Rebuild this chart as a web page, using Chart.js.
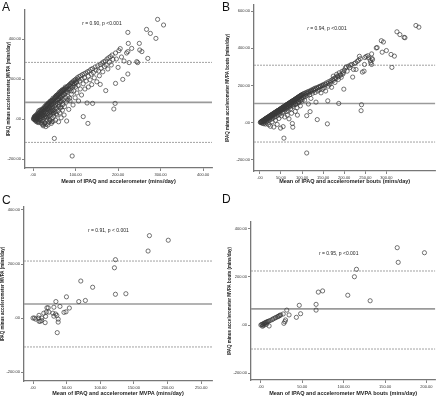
<!DOCTYPE html>
<html>
<head>
<style>
  body { margin: 0; background: #fff; }
  #wrap { position: relative; width: 440px; height: 398px; overflow: hidden; }
  canvas { position: absolute; }
  .letter { position: absolute; font: 12px "Liberation Sans", Arial, sans-serif; color: #111; line-height: 1; }
</style>
</head>

<body>

<div id="wrap">
  <canvas id="chartA" width="220" height="200" style="left:0;top:0"></canvas>
  <canvas id="chartB" width="220" height="200" style="left:220px;top:0"></canvas>
  <canvas id="chartC" width="220" height="198" style="left:0;top:200px"></canvas>
  <canvas id="chartD" width="220" height="198" style="left:220px;top:200px"></canvas>
  <div class="letter" style="left:2px;top:1px">A</div>
  <div class="letter" style="left:222px;top:1px">B</div>
  <div class="letter" style="left:2px;top:194px">C</div>
  <div class="letter" style="left:222px;top:193px">D</div>
</div>

<script src="https://cdn.jsdelivr.net/npm/chart.js"></script>

<script>
// [mean, difference] pairs
const pointsA = [
  [1,1],[2,4],[2,-2],[3,6],[4,1],[4,8],[5,-4],[5,10],[6,3],[7,14],[7,-6],[8,6],[9,17],[9,0],[10,12],[10,-8],
  [11,22],[11,4],[12,-12],[12,16],[13,26],[13,8],[14,-3],[14,30],[15,18],[15,-16],[16,34],[16,10],[17,24],[17,-6],[18,38],[18,2],[19,28],[19,14],[20,40],[20,-20],
  [21,20],[21,8],[22,44],[22,-10],[23,32],[23,0],[24,48],[24,16],[25,-28],[25,38],[26,52],[26,24],[27,6],[27,44],[28,56],[28,-18],[29,30],[29,12],[30,60],[30,-38],[30,46],
  [31,20],[32,64],[32,36],[33,-4],[33,52],[34,68],[34,28],[35,-30],[35,10],[36,72],[36,44],[37,58],[37,-16],[38,76],[38,32],[39,16],[39,62],[40,80],[40,-8],[40,48],
  [41,68],[42,84],[42,24],[43,-22],[43,54],[44,88],[44,38],[45,72],[45,4],[46,92],[46,60],[47,-12],[47,30],[48,96],[48,78],[49,46],[49,14],[50,100],[50,-97],[50,64],
  [51,84],[52,104],[52,36],[53,-6],[53,70],[54,108],[54,90],[55,52],[56,112],[56,20],[57,78],[58,116],[58,96],[59,40],[60,120],[60,-14],[60,62],
  [61,100],[62,124],[62,82],[63,30],[64,128],[64,54],[65,108],[66,132],[66,6],[67,88],[68,136],[68,116],[69,44],[70,140],[70,72],
  [71,124],[72,144],[72,96],[73,20],[74,148],[74,62],[75,130],[76,152],[77,106],[78,156],[78,84],[79,-10],[80,160],[80,136],
  [82,164],[82,112],[84,168],[84,48],[85,144],[86,172],[87,90],[88,176],[88,152],[90,180],[90,124],[92,-185],[92,184],[93,160],[94,70],[95,190],[96,140],[97,176],[98,194],[99,106],[100,198],[100,160],
  [102,182],[103,130],[104,206],[106,168],[107,90],[108,212],[110,190],[111,150],[112,216],[114,120],[115,200],[116,222],[118,12],[118,176],[120,226],[121,206],[122,150],[124,230],[125,190],[127,80],[128,236],[129,-22],[130,214],[130,160],
  [132,240],[134,196],[136,248],[137,224],[138,172],[140,78],[140,252],[142,232],[144,206],[146,260],[148,244],[150,186],[152,266],[154,240],[156,216],[158,173],[158,272],[160,254],[162,280],[164,236],[166,286],[168,262],[170,290],[171,142],
  [172,270],[174,300],[176,250],[178,306],[180,284],[182,312],[184,270],[186,320],[188,298],[190,50],[193,78],[194,178],[194,330],[196,300],[200,258],[202,342],[205,352],[208,310],[211,198],
  [214,290],[220,330],[223,433],[224,378],[223,337],[223,225],[226,282],[232,353],[244,287],[246,282],[250,378],[251,345],[256,337],[267,448],[270,303],[276,428],[289,403],[293,498],[307,470],
  [3,12],[5,16],[6,-10],[8,22],[9,-14],[11,30],[12,-18],[13,40],[14,20],[16,44],[17,12],[19,46],[20,26],[21,-26],[22,50],[23,18],[24,-34],[25,56],[26,36],[27,-22],
  [28,64],[29,46],[31,70],[31,-26],[32,8],[33,72],[34,50],[35,78],[36,20],[37,82],[38,56],[39,-2],[40,88],[41,36],[42,92],[43,74],[44,-14],[45,96],[46,42],[47,104],
  [48,30],[49,90],[51,108],[52,56],[53,114],[54,26],[55,118],[56,96],[57,120],[59,126],[60,100],[61,70],[62,134],[63,110],[64,90],[65,138],[66,60],[67,142],[68,100],[69,146],
  [70,120],[72,150],[74,124],[76,160],[78,138],[80,148],[82,96],[84,150],[86,104],[88,164],[90,140],[93,176],[96,166],[99,184],[103,190],[106,200]
];

const pointsB = [
  [1,1],[2,3],[3,4],[3,-1],[4,6],[5,2],[6,9],[6,-4],[7,10],[8,5],[9,13],[9,-6],[10,15],[10,8],[11,1],[12,18],[12,11],[13,-8],[14,21],[14,14],[15,5],[16,24],[16,17],[17,-3],[18,27],[18,20],[19,10],[20,30],[20,22],
  [21,-12],[22,33],[22,25],[23,14],[24,36],[24,28],[25,-20],[26,39],[26,30],[27,18],[28,42],[28,34],[29,4],[30,45],[30,36],[31,24],[32,48],[32,40],[33,-24],[34,51],[34,42],[35,30],[36,54],[36,46],[37,12],[38,57],[38,48],[39,34],[40,60],[40,50],
  [41,-10],[42,63],[42,54],[43,40],[44,66],[44,56],[45,22],[46,69],[46,60],[47,46],[48,72],[48,62],[49,-30],[50,75],[50,64],[51,36],[52,78],[52,68],[53,52],[54,81],[54,70],[55,-22],[56,84],[56,74],[57,58],[58,87],[58,76],[59,30],[60,90],[60,80],[57,-84],
  [62,93],[62,82],[63,60],[64,96],[64,86],[65,40],[66,99],[66,88],[67,66],[68,102],[68,92],[69,20],[70,105],[70,94],[72,108],[72,96],[73,74],[74,111],[74,100],[75,50],[76,114],[76,104],[77,-5],[78,117],[78,-25],[79,86],[80,120],[80,108],
  [82,123],[82,112],[84,126],[84,60],[85,98],[86,129],[86,116],[88,132],[88,80],[89,40],[90,135],[90,122],[92,138],[92,106],[94,141],[94,126],[96,144],[96,90],[98,147],[98,130],[100,150],[100,116],
  [102,153],[103,136],[104,156],[106,120],[107,159],[108,140],[110,162],[111,-164],[111,37],[112,146],[113,165],[115,100],[116,168],[118,150],[119,59],[120,172],[121,130],[123,176],[125,158],[127,180],[130,184],[131,162],[133,110],[134,188],[136,16],[137,170],[139,192],
  [141,176],[143,196],[145,160],[147,200],[148,180],[150,204],[152,186],[154,208],[156,170],[158,214],[160,-7],[161,117],[162,196],[163,220],[166,206],[168,226],[170,190],[172,232],[174,250],[176,238],[178,216],[180,244],[182,260],[184,250],[186,232],[187,103],[188,268],[190,256],[193,244],[195,276],[197,262],[199,180],[200,282],
  [203,295],[205,300],[207,277],[210,304],[213,296],[215,310],[218,313],[220,245],[222,286],[224,318],[227,322],[228,286],[231,330],[234,336],[236,357],[238,344],[240,64],[241,96],[243,272],[247,277],[248,313],[249,350],[252,356],[256,360],[258,348],[262,334],
  [263,322],[265,370],[266,345],[265,313],[267,339],[276,402],[278,404],[288,441],[290,379],[293,434],[300,388],[311,367],[313,297],[319,358],[325,489],[332,474],[342,459],[344,457],[370,523],[377,514],
  [5,7],[8,11],[11,17],[13,20],[15,23],[17,26],[19,29],[21,31],[23,35],[25,38],[27,41],[29,44],[31,47],[33,50],[35,53],[37,56],[39,58],[41,62],[43,65],[45,67],
  [47,70],[49,73],[51,77],[53,80],[55,83],[57,86],[59,88],[61,92],[63,95],[65,98],[67,101],[69,104],[71,107],[73,110],[75,113],[77,116],[79,118],[81,121],[83,124],[85,128],
  [87,130],[89,134],[91,137],[93,140],[95,143],[97,146],[99,149],[60,70],[64,76],[68,82],[72,88],[76,92],[80,96],[84,100],[88,106],[92,112],[96,118],[100,124],
  [104,144],[108,150],[112,156],[116,160],[120,166],[124,170],[128,174],[132,180],[136,184],[140,190],[144,194],[150,198],[156,204],[162,210],[168,218],[174,226],[180,236],[186,246],[192,256],[198,270]
];

const pointsC = [
  [173,305],[201,288],[171,248],[122.5,216],[121,186],[71,137],[88.6,114],[122.5,88],[138,90],[49.7,78.5],
  [34,61],[68,61],[77.8,65],[54,37],[40,43],[31,40],[22.6,38],[20.7,38],[19.7,22],[23.6,22],
  [16,18],[8.9,10],[7.9,0],[13,0],[18.7,6],[29.5,18],[31,7],[33.5,15],[35.4,10],[37.4,-4],
  [37.4,-15],[36,-54],[46,21],[49,23],[18,-17],[10.8,-12],[0,0],[2,0],[4,-4],[9,-12],[12.8,-9]
];

const pointsD = [
  [197.6,301],[164.7,322],[165.9,261],[115.5,232],[113,201],[105,124],[132,101],[74.6,142],[69.4,137],[66.7,86],
  [66.7,62],[46.4,82],[48,47],[42.9,32],[31.3,62],[34.1,42],[29.8,21],[27.8,7],[27,46],[29,14],
  [0,0],[1,2],[2,3],[3,5],[4,7],[5,9],[6,11],[7,12],[8,14],[9,15],[10,17],[12,20],[14,23],[15,26],
  [17,29],[18,31],[20,34],[21,36],[22,38],[23,40],[24,42],[2,-5],[10,-4],[5,1],[7,4],[3,-2]
];

// upper limit, mean difference, lower limit
const limitsA = [283, 83, -117];
const limitsB = [309, 103, -105];
const limitsC = [211, 52, -107];
const limitsD = [225, 67, -100];

const xTicksA = [0, 100, 200, 300, 400];
const yTicksA = [-200, 0, 200, 400];
const xTicksB = [0, 50, 100, 150, 200, 250, 300];
const yTicksB = [-200, 0, 200, 400, 600];
const xTicksC = [0, 50, 100, 150, 200, 250];
const yTicksC = [-200, 0, 200, 400];
const xTicksD = [0, 50, 100, 150, 200];
const yTicksD = [-200, 0, 200, 400];

const notes = ['r = 0.90, p <0.001', 'r = 0.94, p <0.001', 'r = 0.91, p < 0.001', 'r = 0.95, p <0.001'];
</script>

<script>
const FONT = '"Liberation Sans", Arial, sans-serif';

function fmt(v) {
  return v === 0 ? '.00' : v.toFixed(2);
}

// writes the r / p text inside the plot
const notePlugin = {
  id: 'note',
  afterDatasetsDraw(chart, args, opts) {
    const ctx = chart.ctx;
    const px = chart.scales.x.getPixelForValue(opts.x);
    const py = chart.scales.y.getPixelForValue(opts.y);
    ctx.save();
    ctx.fillStyle = '#222';
    ctx.textBaseline = 'middle';
    const rest = opts.text.slice(1);
    ctx.font = '5px ' + FONT;
    const wRest = ctx.measureText(rest).width;
    ctx.font = (opts.italic ? 'italic ' : '') + '5px ' + FONT;
    const wR = ctx.measureText('r').width;
    let start = px - (wR + wRest) / 2;
    ctx.fillText('r', start, py);
    ctx.font = '5px ' + FONT;
    ctx.fillText(rest, start + wR, py);
    ctx.restore();
  }
};

function makePanel(id, p) {
  const lineSet = (v, dashed, w, c) => ({
    data: [{x: p.xMin, y: v}, {x: p.xMax, y: v}],
    showLine: true,
    pointRadius: 0,
    borderColor: c,
    borderWidth: w,
    borderDash: dashed ? [2, 1] : [],
    order: 2
  });

  return new Chart(document.getElementById(id), {
    type: 'scatter',
    data: {
      datasets: [
        {
          data: p.points.map(d => ({x: d[0], y: d[1]})),
          pointRadius: 2.1,
          pointBorderWidth: 0.7,
          pointBackgroundColor: 'rgba(0,0,0,0)',
          pointBorderColor: '#3a3a3a',
          order: 1
        },
        lineSet(p.limits[0], true, 0.8, '#8a8a8a'),
        lineSet(p.limits[1], false, 1.6, '#9a9a9a'),
        lineSet(p.limits[2], true, 0.8, '#8a8a8a')
      ]
    },
    options: {
      responsive: false,
      animation: false,
      devicePixelRatio: 1,
      layout: {padding: {left: 0, top: p.padTop, right: p.padRight, bottom: 0}},
      plugins: {
        legend: {display: false},
        tooltip: {enabled: false},
        note: {text: p.note, x: p.noteX, y: p.noteY, italic: p.italic}
      },
      scales: {
        x: {
          type: 'linear',
          min: p.xMin,
          max: p.xMax,
          afterBuildTicks: s => { s.ticks = p.xTicks.map(v => ({value: v})); },
          afterFit: s => { s.height = p.xH; },
          grid: {drawOnChartArea: false, drawTicks: true, tickLength: 3, color: '#666', lineWidth: 0.8},
          border: {color: '#777', width: 1.3},
          ticks: {font: {size: 4, family: FONT}, color: '#333', padding: 1, maxRotation: 0, autoSkip: false, callback: v => fmt(v)},
          title: {display: true, text: p.xTitle, color: '#222', font: {size: 5.5, weight: 'bold', family: FONT}, padding: {top: 0, bottom: p.xTitlePad}}
        },
        y: {
          type: 'linear',
          min: p.yMin,
          max: p.yMax,
          afterBuildTicks: s => { s.ticks = p.yTicks.map(v => ({value: v})); },
          afterFit: s => { s.width = p.yW; },
          grid: {drawOnChartArea: false, drawTicks: true, tickLength: 3, color: '#666', lineWidth: 0.8},
          border: {color: '#777', width: 1.3},
          ticks: {font: {size: 4, family: FONT}, color: '#333', padding: 1, autoSkip: false, callback: v => fmt(v)},
          title: {display: true, text: p.yTitle, color: '#222', font: {size: 4.5, weight: 'bold', family: FONT}, padding: {top: p.yTitlePad, bottom: 0}}
        }
      }
    },
    plugins: [notePlugin]
  });
}

makePanel('chartA', {
  points: pointsA, limits: limitsA, xTicks: xTicksA, yTicks: yTicksA,
  xMin: -19, xMax: 421, yMin: -245, yMax: 545,
  padTop: 10, padRight: 8, yW: 25, xH: 32, xTitlePad: 15.7, yTitlePad: 6.3,
  xTitle: 'Mean of IPAQ and accelerometer (mins/day)',
  yTitle: 'IPAQ minus accelerometer MVPA (mins/day)',
  note: notes[0], noteX: 162, noteY: 475, italic: false
});

makePanel('chartB', {
  points: pointsB, limits: limitsB, xTicks: xTicksB, yTicks: yTicksB,
  xMin: -14, xMax: 416, yMin: -261, yMax: 635,
  padTop: 3, padRight: 2, yW: 34, xH: 29, xTitlePad: 15.7, yTitlePad: 5.3,
  xTitle: 'Mean of IPAQ and accelerometer bouts (mins/day)',
  yTitle: 'IPAQ minus accelerometer MVPA bouts (mins/day)',
  note: notes[1], noteX: 159, noteY: 507, italic: true
});

makePanel('chartC', {
  points: pointsC, limits: limitsC, xTicks: xTicksC, yTicks: yTicksC,
  xMin: -13.4, xMax: 266, yMin: -233, yMax: 411,
  padTop: 7, padRight: 8, yW: 24, xH: 17, xTitlePad: 1.7, yTitlePad: 0.3,
  xTitle: 'Mean of IPAQ and accelerometer MVPA (mins/day)',
  yTitle: 'IPAQ minus accelerometer MVPA (mins/day)',
  note: notes[2], noteX: 112, noteY: 322, italic: true
});

makePanel('chartD', {
  points: pointsD, limits: limitsD, xTicks: xTicksD, yTicks: yTicksD,
  xMin: -11.9, xMax: 210.7, yMin: -229, yMax: 429,
  padTop: 22, padRight: 2, yW: 31, xH: 18, xTitlePad: 1.7, yTitlePad: 7.3,
  xTitle: 'Mean of IPAQ and accelerometer MVPA bouts (mins/day)',
  yTitle: 'IPAQ minus accelerometer MVPA bouts (mins/day)',
  note: notes[3], noteX: 94, noteY: 296, italic: true
});
</script>

</body>
</html>
